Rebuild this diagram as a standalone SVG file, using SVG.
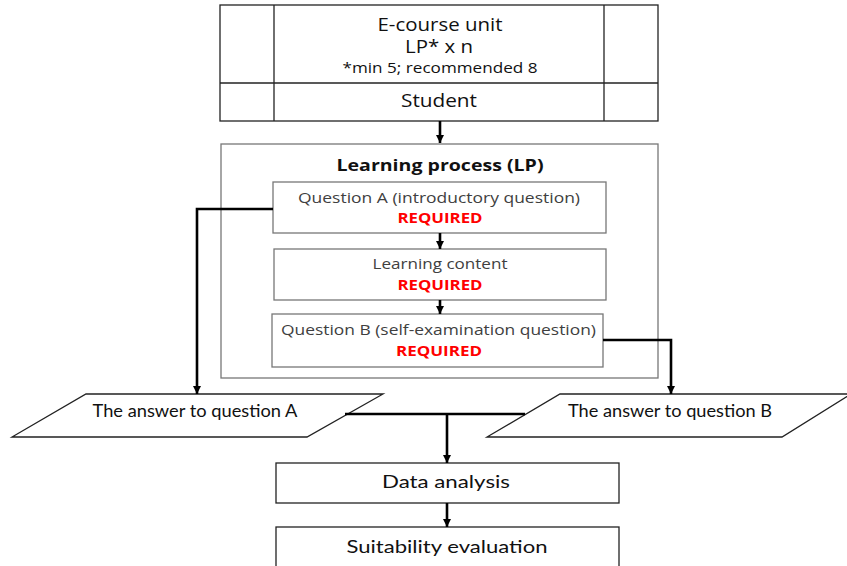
<svg xmlns="http://www.w3.org/2000/svg" width="847" height="566" viewBox="0 0 847 566">
<defs>
<marker id="ah" viewBox="0 0 10 10" refX="10" refY="5" markerWidth="3.2" markerHeight="3.2" orient="auto" markerUnits="strokeWidth">
<path d="M0,0 L10,5 L0,10 Z" fill="#000"/>
</marker>
<style>
.box{fill:#fff;stroke:#222;stroke-width:1.3}
.gbox{fill:#fff;stroke:#777;stroke-width:1.3}
.os{font-family:"Open Sans","DejaVu Sans",sans-serif;text-anchor:middle;fill:#111}
.q{font-family:"Open Sans","DejaVu Sans",sans-serif;text-anchor:middle;fill:#404040;font-size:15px}
.req{font-family:"Open Sans","DejaVu Sans",sans-serif;text-anchor:middle;fill:#ff0000;font-size:15px;font-weight:bold}
.lt{font-family:Lato,"Open Sans",sans-serif;text-anchor:middle;fill:#111}
.con{fill:none;stroke:#000;stroke-width:2.6}
</style>
</defs>
<g id="ecourse">
<rect class="box" x="220" y="5" width="438" height="116"/>
<line class="box" x1="274" y1="5" x2="274" y2="121"/>
<line class="box" x1="604" y1="5" x2="604" y2="121"/>
<line class="box" x1="220" y1="83" x2="658" y2="83"/>
<text class="os" x="440" y="31" font-size="18" textLength="125" lengthAdjust="spacingAndGlyphs">E-course unit</text>
<text class="os" x="439" y="53" font-size="18" textLength="68" lengthAdjust="spacingAndGlyphs">LP* x n</text>
<text class="os" x="440" y="73" font-size="14" textLength="195" lengthAdjust="spacingAndGlyphs">*min 5; recommended 8</text>
<text class="os" x="439" y="107" font-size="18" textLength="76" lengthAdjust="spacingAndGlyphs">Student</text>
</g>
<g id="lp">
<rect class="gbox" x="221" y="144" width="437" height="234" stroke="#999"/>
<text class="os" x="440" y="171" font-size="16.5" font-weight="bold" textLength="207" lengthAdjust="spacingAndGlyphs">Learning process (LP)</text>
</g>
<g id="questionA">
<rect class="gbox" x="273" y="182" width="333" height="51"/>
<text class="q" x="439" y="203" textLength="282" lengthAdjust="spacingAndGlyphs">Question A (introductory question)</text>
<text class="req" x="440" y="223" textLength="85" lengthAdjust="spacingAndGlyphs">REQUIRED</text>
</g>
<g id="content">
<rect class="gbox" x="274" y="249" width="332" height="51"/>
<text class="q" x="440" y="269" textLength="135" lengthAdjust="spacingAndGlyphs">Learning content</text>
<text class="req" x="440" y="290" textLength="85" lengthAdjust="spacingAndGlyphs">REQUIRED</text>
</g>
<g id="questionB">
<rect class="gbox" x="272" y="314" width="331" height="53"/>
<text class="q" x="438.5" y="335" textLength="315" lengthAdjust="spacingAndGlyphs">Question B (self-examination question)</text>
<text class="req" x="439" y="356" textLength="86" lengthAdjust="spacingAndGlyphs">REQUIRED</text>
</g>
<g id="answerA">
<polygon class="box" points="86,394 383,394 307,437 12,437"/>
<text class="lt" x="195" y="417" font-size="16.5" fill="#333" textLength="205" lengthAdjust="spacingAndGlyphs">The answer to question A</text>
</g>
<g id="answerB">
<polygon class="box" points="560,394 851,394 782,437 487,437"/>
<text class="lt" x="670" y="417" font-size="16.5" fill="#333" textLength="204" lengthAdjust="spacingAndGlyphs">The answer to question B</text>
</g>
<g id="analysis">
<rect class="box" x="276" y="463" width="343" height="40"/>
<text class="lt" x="446" y="488" font-size="17.5" textLength="128" lengthAdjust="spacingAndGlyphs">Data analysis</text>
</g>
<g id="evaluation">
<rect class="box" x="276" y="527" width="343" height="50"/>
<text class="lt" x="447" y="553" font-size="17.5" textLength="201" lengthAdjust="spacingAndGlyphs">Suitability evaluation</text>
</g>
<g id="connectors">
<line class="con" x1="440" y1="121" x2="440" y2="143" marker-end="url(#ah)"/>
<line class="con" x1="440" y1="233" x2="440" y2="249" marker-end="url(#ah)"/>
<line class="con" x1="440" y1="300" x2="440" y2="314" marker-end="url(#ah)"/>
<polyline class="con" points="273,209 197,209 197,394" marker-end="url(#ah)"/>
<polyline class="con" points="603,340 671,340 671,394" marker-end="url(#ah)"/>
<line class="con" x1="345" y1="414" x2="525" y2="414"/>
<line class="con" x1="447" y1="414" x2="447" y2="463" marker-end="url(#ah)"/>
<line class="con" x1="447" y1="503" x2="447" y2="527" marker-end="url(#ah)"/>
</g>
</svg>
